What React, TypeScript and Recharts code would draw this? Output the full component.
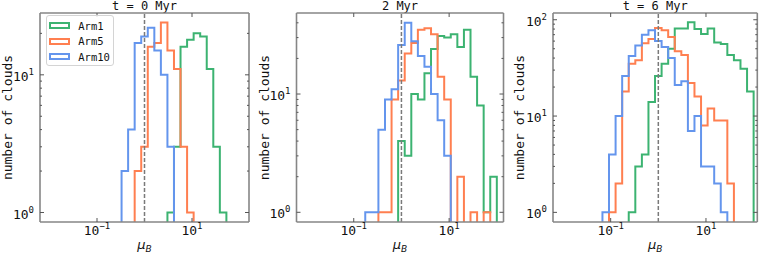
import React from "react";
import { LineChart, Line, XAxis, YAxis, ReferenceLine, Legend } from "recharts";

// 29 log-spaced bins between 1e-2 and 1e2 (30 edges)
const binEdges = Array.from({ length: 30 }, (_, k) => 10 ** (-2 + (4 * k) / 29));

// cloud counts per bin (bin 0 .. bin 28)
const arm1T0 = [0, 0, 0, 0, 0, 0, 0, 0, 0, 0, 0, 0, 0, 0, 0, 0, 0, 0, 1, 3, 16, 18, 20, 19, 11, 3, 1, 0, 0];
const arm5T0 = [0, 0, 0, 0, 0, 0, 0, 0, 0, 0, 0, 0, 0, 2, 3, 16, 17, 24, 15, 11, 3, 1, 0, 0, 0, 0, 0, 0, 0];
const arm10T0 = [0, 0, 0, 0, 0, 0, 0, 0, 0, 0, 0, 2, 4, 17, 19, 22, 15, 10, 3, 0, 0, 0, 0, 0, 0, 0, 0, 0, 0];

const arm1T2 = [0, 0, 0, 0, 0, 0, 0, 0, 0, 0, 0, 0, 0, 0, 4, 3, 10, 9, 15, 24, 31, 30, 32, 25, 35, 14, 8, 1, 2];
const arm5T2 = [0, 0, 0, 0, 0, 0, 0, 0, 0, 0, 0, 1, 1, 9, 13, 22, 27, 35, 36, 32, 14, 9, 0, 2, 0, 1, 0, 1, 0];
const arm10T2 = [0, 0, 0, 0, 0, 0, 0, 0, 0, 1, 1, 5, 9, 11, 26, 40, 28, 21, 17, 10, 6, 3, 0, 0, 0, 0, 0, 0, 0];

const arm1T6 = [0, 0, 0, 0, 0, 0, 0, 0, 0, 0, 1, 3, 4, 14, 26, 35, 50, 81, 81, 94, 80, 71, 81, 58, 56, 43, 38, 31, 18];
const arm5T6 = [0, 0, 0, 0, 0, 0, 0, 1, 2, 18, 35, 38, 57, 63, 82, 78, 66, 47, 43, 22, 16, 8, 12, 9, 9, 2, 0, 0, 0];
const arm10T6 = [0, 0, 0, 0, 0, 0, 1, 4, 10, 26, 42, 54, 70, 78, 60, 52, 40, 21, 23, 7, 10, 3, 3, 2, 1, 0, 0, 0, 0];

const seriesKeys = ["arm1", "arm5", "arm10"];
const seriesNames = ["Arm1", "Arm5", "Arm10"];
const seriesColors = ["#3cb371", "#ff7f50", "#6495ed"];

const panelTitles = ["t = 0 Myr", "2 Myr", "t = 6 Myr"];
const xTickValues = [0.1, 10];
const yTickValues = [1, 2, 3, 4, 5, 6, 7, 8, 9, 10, 20, 30, 40, 50, 60, 70, 80, 90, 100];

const FONT = "'DejaVu Sans Mono', monospace";
const FRAME = "#868686";
const TICK = "#555";

// empty bins sit far below the axis so the step drops out of view, like matplotlib
const EMPTY = 1e-3;

const buildData = (a1: number[], a5: number[], a10: number[]) =>
  binEdges.map((x, k) => ({
    x,
    arm1: a1[k] ? a1[k] : EMPTY,
    arm5: a5[k] ? a5[k] : EMPTY,
    arm10: a10[k] ? a10[k] : EMPTY,
  }));

const panels = [
  { left: 40, right: 249, xLog: [-2.2, 2.2], yLog: [-0.069, 1.449], data: buildData(arm1T0, arm5T0, arm10T0), ylabelX: 7 },
  { left: 296.5, right: 503.5, xLog: [-2.2, 2.14], yLog: [-0.082, 1.685], data: buildData(arm1T2, arm5T2, arm10T2), ylabelX: 264 },
  { left: 553, right: 757.3, xLog: [-2.21, 2.077], yLog: [-0.1, 2.07], data: buildData(arm1T6, arm5T6, arm10T6), ylabelX: 519.5 },
];

const PLOT_TOP = 13;
const PLOT_BOTTOM = 222;
const W = 763;
const H = 254;
const AX = 1; // thickness reserved by each axis

const expText = (v: number) => {
  const e = Math.round(Math.log10(v));
  return e < 0 ? "\u2212" + -e : String(e);
};
const isMajor = (v: number) => {
  const e = Math.log10(v);
  return Math.abs(e - Math.round(e)) < 1e-6;
};

const BottomTick = (props: any) => {
  const { x, y, payload } = props;
  return (
    <g>
      <line x1={x} x2={x} y1={y} y2={y - 4} stroke={TICK} strokeWidth={1} />
      <text x={x} y={y + 13} textAnchor="middle" fontFamily={FONT} fontSize={13} fill="#111">
        10
        <tspan dy={-6} fontSize={9}>
          {expText(payload.value)}
        </tspan>
      </text>
    </g>
  );
};

const TopTick = (props: any) => {
  const { x, y } = props;
  return <line x1={x} x2={x} y1={y} y2={y + 4} stroke={TICK} strokeWidth={1} />;
};

const LeftTick = (props: any) => {
  const { x, y, payload } = props;
  const major = isMajor(payload.value);
  return (
    <g>
      <line x1={x} x2={x + (major ? 4 : 2)} y1={y} y2={y} stroke={TICK} strokeWidth={1} />
      {major && (
        <text x={x - 6} y={y + 6} textAnchor="end" fontFamily={FONT} fontSize={13} fill="#111">
          10
          <tspan dy={-6} fontSize={9}>
            {expText(payload.value)}
          </tspan>
        </text>
      )}
    </g>
  );
};

const RightTick = (props: any) => {
  const { x, y, payload } = props;
  const major = isMajor(payload.value);
  return <line x1={x} x2={x - (major ? 4 : 2)} y1={y} y2={y} stroke={TICK} strokeWidth={1} />;
};

const LegendBox = () => (
  <div
    style={{
      position: "relative",
      width: 68.5,
      height: 51,
      boxSizing: "border-box",
      border: "1px solid #d4d4d4",
      borderRadius: 3,
      background: "rgba(255,255,255,0.85)",
    }}
  >
    {seriesNames.map((name, i) => (
      <React.Fragment key={name}>
        <div
          style={{
            position: "absolute",
            left: 2.8,
            top: 6 + i * 15.6,
            width: 21,
            height: 7,
            boxSizing: "border-box",
            border: `2px solid ${seriesColors[i]}`,
          }}
        />
        <div
          style={{
            position: "absolute",
            left: 31.8,
            top: 3.5 + i * 15.6,
            fontFamily: FONT,
            fontSize: 10.5,
            lineHeight: "12px",
            color: "#111",
            whiteSpace: "nowrap",
          }}
        >
          {name}
        </div>
      </React.Fragment>
    ))}
  </div>
);

const Panel = ({ index }: { index: number }) => {
  const p = panels[index];
  const xDomain = [10 ** p.xLog[0], 10 ** p.xLog[1]];
  const yDomain = [10 ** p.yLog[0], 10 ** p.yLog[1]];
  const yTicks = yTickValues.filter((v) => v >= yDomain[0] && v <= yDomain[1]);
  const cx = (p.left + p.right) / 2;
  const cy = (PLOT_TOP + PLOT_BOTTOM) / 2;
  const frame = { stroke: FRAME, strokeWidth: 1.6 };

  return (
    <div style={{ position: "absolute", left: 0, top: 0 }}>
      <LineChart
        width={W}
        height={H}
        data={p.data}
        margin={{
          top: PLOT_TOP - AX,
          bottom: H - PLOT_BOTTOM - AX,
          left: p.left - AX,
          right: W - p.right - AX,
        }}
      >
        <XAxis
          dataKey="x"
          type="number"
          scale="log"
          domain={xDomain}
          allowDataOverflow
          ticks={xTickValues}
          interval={0}
          height={AX}
          tickSize={0}
          tickMargin={0}
          tickLine={false}
          axisLine={frame}
          tick={(t: any) => <BottomTick {...t} />}
        />
        <XAxis
          xAxisId="top"
          orientation="top"
          dataKey="x"
          type="number"
          scale="log"
          domain={xDomain}
          allowDataOverflow
          ticks={xTickValues}
          interval={0}
          height={AX}
          tickSize={0}
          tickMargin={0}
          tickLine={false}
          axisLine={frame}
          tick={(t: any) => <TopTick {...t} />}
        />
        <YAxis
          type="number"
          scale="log"
          domain={yDomain}
          allowDataOverflow
          ticks={yTicks}
          interval={0}
          width={AX}
          tickSize={0}
          tickMargin={0}
          tickLine={false}
          axisLine={frame}
          tick={(t: any) => <LeftTick {...t} />}
        />
        <YAxis
          yAxisId="right"
          orientation="right"
          type="number"
          scale="log"
          domain={yDomain}
          allowDataOverflow
          ticks={yTicks}
          interval={0}
          width={AX}
          tickSize={0}
          tickMargin={0}
          tickLine={false}
          axisLine={frame}
          tick={(t: any) => <RightTick {...t} />}
        />
        {seriesKeys.map((key, i) => (
          <Line
            key={key}
            dataKey={key}
            name={seriesNames[i]}
            type="stepAfter"
            stroke={seriesColors[i]}
            strokeWidth={2}
            dot={false}
            activeDot={false}
            isAnimationActive={false}
          />
        ))}
        <ReferenceLine x={1} stroke="#7a7a7a" strokeWidth={1.5} strokeDasharray="4 2" />
        {index === 0 && (
          <Legend
            layout="vertical"
            align="center"
            verticalAlign="middle"
            wrapperStyle={{ left: 45.5, top: 15, width: 68.5, height: 51 }}
            content={() => <LegendBox />}
          />
        )}
        <text x={cx} y={9.8} textAnchor="middle" fontFamily={FONT} fontSize={12} fill="#111">
          {panelTitles[index]}
        </text>
        <text
          x={p.ylabelX}
          y={cy}
          transform={`rotate(-90 ${p.ylabelX} ${cy})`}
          textAnchor="middle"
          dominantBaseline="central"
          fontFamily={FONT}
          fontSize={13}
          fill="#111"
        >
          number of clouds
        </text>
        <text x={cx} y={248.5} textAnchor="middle" fontFamily="'DejaVu Sans', sans-serif" fontStyle="italic" fontSize={13} fill="#111">
          μ
          <tspan dy={3} fontSize={9}>
            B
          </tspan>
        </text>
      </LineChart>
    </div>
  );
};

const App = () => (
  <div style={{ position: "absolute", left: 0, top: 0, width: W, height: H, background: "#fff" }}>
    <Panel index={0} />
    <Panel index={1} />
    <Panel index={2} />
  </div>
);

export default App;
